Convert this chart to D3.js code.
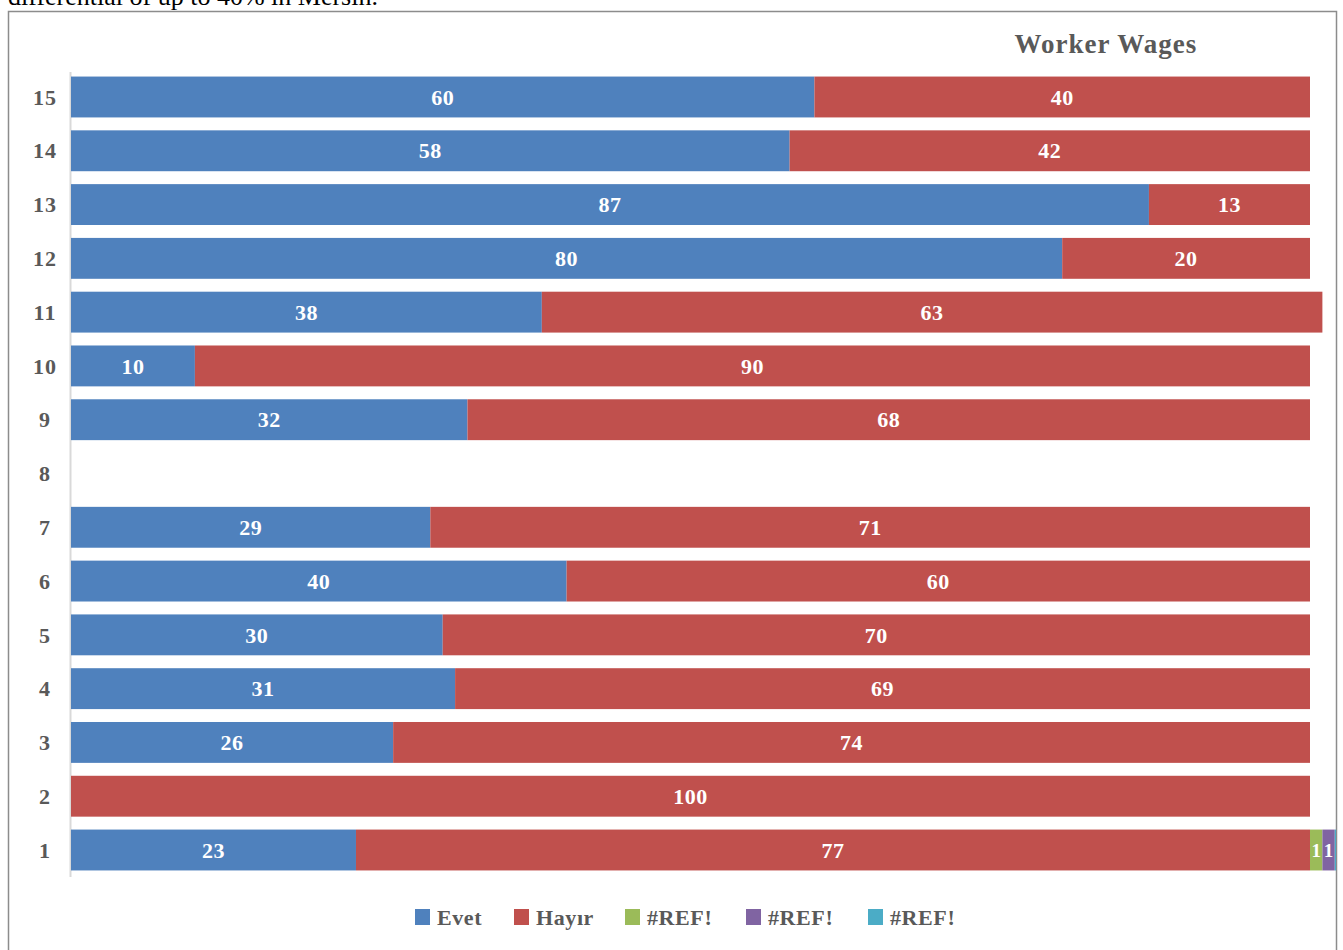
<!DOCTYPE html>
<html>
<head>
<meta charset="utf-8">
<script src="https://cdn.jsdelivr.net/npm/d3@7"></script>
<style>
  body { margin: 0; background: #fff; }
  svg { display: block; }
</style>
</head>
<body>
<div id="chart"></div>
<script>
// Data

const categories = ['1', '2', '3', '4', '5', '6', '7', '8', '9', '10', '11', '12', '13', '14', '15']
const evet = [23, 0, 26, 31, 30, 40, 29, 0, 32, 10, 38, 80, 87, 58, 60]
const hayir = [77, 100, 74, 69, 70, 60, 71, 0, 68, 90, 63, 20, 13, 42, 40]
const ref1 = [1, 0, 0, 0, 0, 0, 0, 0, 0, 0, 0, 0, 0, 0, 0]
const ref2 = [1, 0, 0, 0, 0, 0, 0, 0, 0, 0, 0, 0, 0, 0, 0]
const ref3 = [1, 0, 0, 0, 0, 0, 0, 0, 0, 0, 0, 0, 0, 0, 0]
const seriesNames = ['Evet', 'Hayır', '#REF!', '#REF!', '#REF!']

const COLORS = ['#4F81BD', '#C0504D', '#9BBB59', '#8064A2', '#4BACC6']
const FONT = '"Liberation Serif", "Times New Roman", serif'

const W = 1343
const H = 950
const frame = { x: 8, y: 11, r: 1336 }

const rows = categories.map((c, i) => ({
  cat: c,
  s0: evet[i],
  s1: hayir[i],
  s2: ref1[i],
  s3: ref2[i],
  s4: ref3[i],
}))
const keys = ['s0', 's1', 's2', 's3', 's4']
const stacked = d3.stack().keys(keys)(rows)

const svg = d3.select('#chart').append('svg').attr('width', W).attr('height', H)

// Text of the page above the chart, cut off at the top

svg
  .append('text')
  .attr('x', 8)
  .attr('y', 5)
  .attr('font-family', FONT)
  .attr('font-size', 26)
  .attr('fill', '#000')
  .text('differential of up to 40% in Mersin.')

// Chart frame

svg
  .append('defs')
  .append('clipPath')
  .attr('id', 'frameClip')
  .append('rect')
  .attr('x', frame.x)
  .attr('y', frame.y)
  .attr('width', frame.r - frame.x)
  .attr('height', H)

svg
  .append('rect')
  .attr('x', frame.x + 0.5)
  .attr('y', frame.y + 0.5)
  .attr('width', frame.r - frame.x)
  .attr('height', H + 10)
  .attr('fill', '#fff')
  .attr('stroke', '#8c8c8c')
  .attr('stroke-width', 1.5)

// Scales

const x = d3.scaleLinear().domain([0, 100]).range([71, 1310])
const y = d3
  .scaleBand()
  .domain(categories.slice().reverse())
  .range([70.1, 876.9])
  .paddingInner(0.24)
  .paddingOuter(0.12)

const plot = svg.append('g').attr('clip-path', 'url(#frameClip)')

// Axis line

plot
  .append('line')
  .attr('x1', 70.5)
  .attr('x2', 70.5)
  .attr('y1', 72)
  .attr('y2', 877)
  .attr('stroke', '#d9d9d9')
  .attr('stroke-width', 2)

// Bars

const layers = plot
  .selectAll('g.layer')
  .data(stacked)
  .join('g')
  .attr('class', 'layer')
  .attr('fill', (d, i) => COLORS[i])

layers
  .selectAll('rect')
  .data(d => d.filter(p => p[1] - p[0] > 0))
  .join('rect')
  .attr('x', d => x(d[0]))
  .attr('y', d => y(d.data.cat))
  .attr('width', d => x(d[1]) - x(d[0]))
  .attr('height', y.bandwidth())

// Data labels (only those whose segment centre is inside the frame)

layers
  .selectAll('text')
  .data(d => d.filter(p => p[1] - p[0] > 0 && (x(p[0]) + x(p[1])) / 2 < frame.r - 4))
  .join('text')
  .attr('x', d => (x(d[0]) + x(d[1])) / 2)
  .attr('y', d => y(d.data.cat) + y.bandwidth() / 2)
  .attr('dy', '0.35em')
  .attr('text-anchor', 'middle')
  .attr('font-family', FONT)
  .attr('font-weight', 'bold')
  .attr('font-size', d => (d[1] - d[0] < 3 ? 19 : 22))
  .attr('letter-spacing', d => (d[1] - d[0] < 3 ? 0 : 0.5))
  .attr('fill', '#fff')
  .text(d => d[1] - d[0])

// Category labels

svg
  .append('g')
  .selectAll('text')
  .data(categories)
  .join('text')
  .attr('x', 45)
  .attr('y', d => y(d) + y.bandwidth() / 2)
  .attr('dy', '0.35em')
  .attr('text-anchor', 'middle')
  .attr('font-family', FONT)
  .attr('font-weight', 'bold')
  .attr('font-size', 22)
  .attr('letter-spacing', 1)
  .attr('fill', '#595959')
  .text(d => d)

// Title

svg
  .append('text')
  .attr('x', 1106)
  .attr('y', 53)
  .attr('text-anchor', 'middle')
  .attr('font-family', FONT)
  .attr('font-weight', 'bold')
  .attr('font-size', 27)
  .attr('letter-spacing', 1)
  .attr('fill', '#595959')
  .text('Worker Wages')

// Legend

const legendX = [415, 514, 625, 746, 868]
const legend = svg
  .append('g')
  .selectAll('g')
  .data(seriesNames)
  .join('g')
  .attr('transform', (d, i) => `translate(${legendX[i]},909)`)

legend
  .append('rect')
  .attr('width', 15)
  .attr('height', 16)
  .attr('fill', (d, i) => COLORS[i])

legend
  .append('text')
  .attr('x', 22)
  .attr('y', 8)
  .attr('dy', '0.35em')
  .attr('font-family', FONT)
  .attr('font-weight', 'bold')
  .attr('font-size', 22)
  .attr('letter-spacing', 0.6)
  .attr('fill', '#595959')
  .text(d => d)
</script>
</body>
</html>
